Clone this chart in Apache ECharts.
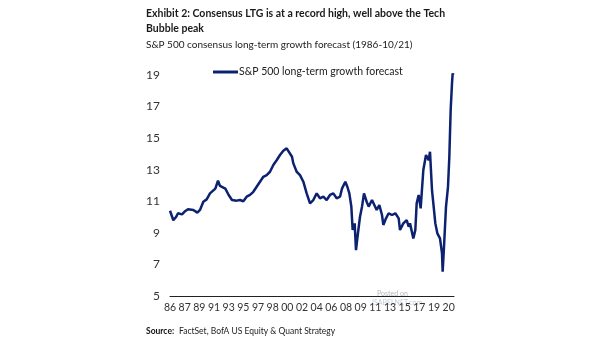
<!DOCTYPE html>
<html><head><meta charset="utf-8">
<script src="https://cdn.jsdelivr.net/npm/echarts@6/dist/echarts.min.js"></script>
<style>html,body{margin:0;padding:0;background:#fff}#c{width:605px;height:341px}</style>
</head><body><div id="c"></div>
<script>
// Month (YYYY-MM) of each reading and S&P 500 consensus LTG (%)
const dates = ["1986-01","1986-06","1986-10","1987-01","1987-07","1987-11","1988-04","1988-12","1989-06","1989-10",
"1990-03","1990-08","1991-01","1991-09","1992-01","1992-04","1992-12","1993-05","1993-10","1994-05",
"1994-10","1995-03","1995-08","1996-01","1996-06","1996-11","1997-04","1997-09","1998-02","1998-07",
"1998-12","1999-05","1999-10","2000-03","2000-08","2000-11","2001-04","2001-06","2001-11","2002-04",
"2002-09","2003-02","2003-07","2003-12","2004-05","2004-10","2005-03","2005-08","2006-01","2006-06",
"2006-11","2007-04","2007-07","2007-12","2008-03","2008-06","2008-09","2008-11","2009-02","2009-04",
"2009-06","2009-09","2009-10","2010-01","2010-04","2010-08","2010-11","2011-04","2011-07","2011-11",
"2012-03","2012-07","2012-09","2013-01","2013-05","2013-10","2014-03","2014-08","2014-10","2015-03",
"2015-08","2015-11","2016-01","2016-06","2016-09","2016-11","2017-02","2017-05","2017-09","2018-01",
"2018-05","2018-07","2018-10","2018-12","2019-03","2019-06","2019-10","2020-01","2020-02","2020-04",
"2020-07","2020-10","2020-12","2021-02","2021-04","2021-05","2021-06"];
const ltg = [10.4,9.8,10.0,10.24,10.17,10.35,10.5,10.45,10.28,10.45,
10.97,11.12,11.5,11.8,12.3,11.97,11.8,11.4,11.08,11.04,
11.08,11.0,11.29,11.4,11.6,11.92,12.24,12.55,12.66,12.87,
13.3,13.6,13.93,14.2,14.35,14.3,13.82,13.4,12.87,12.66,
12.24,11.5,10.87,11.08,11.5,11.19,11.29,11.08,11.4,11.5,
11.19,11.29,11.8,12.24,11.92,11.5,10.66,9.18,9.6,7.9,
8.65,8.55,10.02,10.66,11.5,10.97,10.66,11.08,11.19,10.45,
10.76,10.13,9.5,9.92,10.24,10.13,10.24,9.92,9.18,9.6,
9.81,9.39,9.6,8.65,9.18,10.87,11.4,10.55,12.98,13.93,
13.6,14.14,11.7,10.87,9.6,8.97,8.65,7.7,6.54,8.12,
10.66,11.92,13.82,16.78,18.47,19.1,19.0];
const xTickLabels = ["86","87","89","91","93","95","97","98","00","02","04","06","08","09","11","13","15","17","19","20"];
const yTickValues = [5,7,9,11,13,15,17,19];

const FONT = 'Lato,"Liberation Sans",sans-serif';
function monthIndex(s){const p=s.split('-');return (parseInt(p[0])-1986)*12+parseInt(p[1])-1;}
const seriesData = dates.map((d,i)=>[monthIndex(d), ltg[i]]);

const chart = echarts.init(document.getElementById('c'), null, {renderer:'canvas'});
chart.setOption({
  animation:false,
  backgroundColor:'#fff',
  textStyle:{fontFamily:FONT},
  title:{
    left:146, top:6, padding:0,
    text:'Exhibit 2: Consensus LTG is at a record high, well above the Tech\nBubble peak',
    textStyle:{fontFamily:FONT,fontSize:10.5,fontWeight:'bold',color:'#1a1a1a',lineHeight:15},
    subtext:'S&P 500 consensus long-term growth forecast (1986-10/21)',
    subtextStyle:{fontFamily:FONT,fontSize:10,color:'#222',lineHeight:12},
    itemGap:3
  },
  legend:{
    left:213, top:65, padding:0, itemWidth:25, itemHeight:3, icon:'rect',
    textStyle:{fontFamily:FONT,fontSize:10.5,color:'#222',lineHeight:14,padding:[0,0,0,-4]},
    data:['S&P 500 long-term growth forecast']
  },
  grid:{left:170, right:151, top:43.4, bottom:45, containLabel:false},
  xAxis:{
    type:'value', min:0, max:426, interval:22,
    axisLine:{show:true,lineStyle:{color:'#222',width:1}},
    axisTick:{show:false}, splitLine:{show:false},
    axisLabel:{fontFamily:FONT,fontSize:10.5,color:'#333',margin:6,showMinLabel:true,showMaxLabel:false,hideOverlap:false,
      formatter:function(v){const i=Math.round(v/22);return xTickLabels[i]!==undefined?xTickLabels[i]:'';}}
  },
  yAxis:{
    type:'value', min:5, max:21, interval:2,
    axisLine:{show:false}, axisTick:{show:false}, splitLine:{show:false},
    axisLabel:{fontFamily:FONT,fontSize:12,color:'#333',margin:10,
      formatter:function(v){return yTickValues.indexOf(v)>=0?String(v):'';}}
  },
  graphic:[
    {type:'text',left:146,top:327,style:{text:'Source:',font:'bold 8.5px '+FONT,fill:'#111'}},
    {type:'text',left:179,top:327,style:{text:'FactSet, BofA US Equity & Quant Strategy',font:'8.5px '+FONT,fill:'#222'}},
    {type:'text',left:377,top:290,style:{text:'Posted on',font:'7px '+FONT,fill:'#b8b8b8'}},
    {type:'text',left:372,top:299,style:{text:'ISABELNET.com',font:'7px '+FONT,fill:'#c4ccd6'}}
  ],
  series:[{
    name:'S&P 500 long-term growth forecast',
    type:'line', data:seriesData, symbol:'none', smooth:false,
    lineStyle:{color:'#0c2170',width:2.5}, itemStyle:{color:'#0c2170'}
  }]
});
</script></body></html>
